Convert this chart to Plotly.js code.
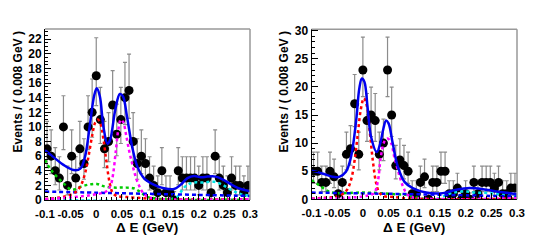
<!DOCTYPE html>
<html>
<head>
<meta charset="utf-8">
<script src="https://cdn.plot.ly/plotly-3.0.1.min.js"></script>
<style>html,body{margin:0;padding:0;background:#fff;}#chart{width:543px;height:243px;}</style>
</head>
<body>
<div id="chart"></div>
<script>
// ---- binning ----
const binStart = -0.1;
const binWidth = 0.008;

// ---- data: events per bin (left panel, right panel) ----
const countsLeft = [7, 6, 4, 3, 10, 2, 6, 3, 7, 5, 10, 12, 17, 11, 7, 8, 13, 9, 11, 14,
  15, 8, 5, 6, 5, 3, 2, 1, 4, 1, 1, 0, 4, 3, 3, 3, 3, 2, 3, 3,
  1, 6, 3, 2, 1, 3, 2, 2, 1, 2];
const countsRight = [5, 5, 3, 3, 5, 4, 1, 3, 8, 9, 17, 8, 23, 14, 15, 14, 8, 10, 23, 15,
  6, 7, 6, 5, 1, 1, 3, 4, 0, 3, 3, 5, 5, 1, 1, 2, 0, 1, 0, 3,
  1, 3, 3, 3, 2, 3, 1, 1, 2, 2];

// Poisson (68%) interval half-widths, indexed by count
const poisLo = [0, 0.827, 1.292, 1.633, 1.914, 2.160, 2.380, 2.581, 2.768, 2.943, 3.109, 3.266,
  3.415, 3.559, 3.696, 3.828, 3.954, 4.076, 4.194, 4.310, 4.422, 4.532, 4.639, 4.744];
const poisHi = [1.148, 2.300, 2.638, 2.918, 3.163, 3.382, 3.584, 3.770, 3.945, 4.110, 4.266, 4.416,
  4.559, 4.697, 4.830, 4.958, 5.083, 5.204, 5.321, 5.435, 5.547, 5.655, 5.761, 5.865];

// ---- fit curves, left panel ----
const totL_x = [-0.1, -0.084, -0.064, -0.044, -0.031, -0.022, -0.012, -0.004, 0.001, 0.007, 0.014, 0.022, 0.027, 0.037, 0.046, 0.052, 0.060, 0.070, 0.080, 0.093, 0.112, 0.132, 0.152, 0.165, 0.178, 0.191, 0.204, 0.217, 0.233, 0.250, 0.269, 0.282, 0.300];
const totL_y = [6.8, 5.9, 4.8, 4.1, 4.3, 5.9, 10.5, 14.3, 15.3, 14.2, 10.0, 7.7, 8.2, 12.3, 14.5, 14.2, 11.4, 7.3, 4.6, 3.0, 2.1, 1.6, 1.5, 2.1, 3.0, 3.3, 3.1, 3.2, 3.2, 2.7, 1.9, 1.5, 1.2];
const redL_x = [-0.1, -0.075, -0.055, -0.04, -0.03, -0.022, -0.015, -0.008, -0.002, 0.003, 0.008, 0.014, 0.020, 0.026, 0.032, 0.04, 0.06, 0.09, 0.12, 0.3];
const redL_y = [0.15, 0.3, 0.6, 1.1, 2.0, 3.6, 6.0, 8.8, 10.6, 11.0, 10.5, 8.3, 5.2, 2.4, 1.0, 0.55, 0.4, 0.25, 0.1, 0.1];
const magL_x = [-0.1, -0.05, 0.0, 0.02, 0.028, 0.033, 0.038, 0.043, 0.048, 0.053, 0.058, 0.064, 0.070, 0.076, 0.082, 0.09, 0.10, 0.12, 0.3];
const magL_y = [0.1, 0.35, 0.8, 1.2, 2.0, 3.6, 6.6, 9.6, 11.0, 10.6, 9.0, 6.8, 5.0, 3.4, 2.2, 1.1, 0.45, 0.15, 0.1];
const grnL_x = [-0.1, -0.09, -0.077, -0.061, -0.048, -0.031, -0.015, 0.001, 0.014, 0.034, 0.054, 0.073, 0.086, 0.099, 0.119, 0.15, 0.3];
const grnL_y = [5.5, 4.3, 3.2, 2.1, 1.4, 1.8, 2.1, 2.2, 1.9, 1.7, 1.7, 1.6, 1.1, 0.45, 0.2, 0.05, 0.05];
const bkgL_x = [-0.1, 0.0, 0.1, 0.2, 0.3];
const bkgL_y = [1.15, 1.0, 0.85, 0.7, 0.55];
const cyaL_x = [-0.1, 0.14, 0.158, 0.168, 0.178, 0.191, 0.21, 0.23, 0.246, 0.263, 0.282, 0.3];
const cyaL_y = [0.05, 0.05, 0.45, 1.4, 2.1, 2.4, 2.4, 2.5, 2.1, 1.4, 0.8, 0.6];

// ---- fit curves, right panel ----
const totR_x = [-0.1, -0.079, -0.059, -0.046, -0.033, -0.023, -0.013, -0.007, -0.002, 0.003, 0.009, 0.016, 0.027, 0.034, 0.040, 0.045, 0.050, 0.058, 0.068, 0.081, 0.097, 0.123, 0.156, 0.182, 0.208, 0.234, 0.26, 0.3];
const totR_y = [5.1, 4.6, 4.0, 4.0, 4.9, 7.6, 14.1, 19.7, 21.5, 20.9, 16.5, 11.1, 8.4, 10.0, 12.6, 14.0, 13.5, 10.0, 5.8, 3.1, 2.0, 1.2, 1.1, 1.7, 2.0, 1.8, 1.4, 0.95];
const redR_x = [-0.1, -0.07, -0.05, -0.04, -0.03, -0.022, -0.016, -0.01, -0.004, 0.002, 0.008, 0.014, 0.020, 0.026, 0.032, 0.04, 0.06, 0.1, 0.3];
const redR_y = [0.1, 0.3, 0.5, 0.9, 1.8, 3.8, 7.0, 11.5, 16.0, 18.0, 16.5, 11.5, 6.4, 2.8, 1.2, 0.6, 0.4, 0.1, 0.1];
const magR_x = [-0.1, -0.05, 0.0, 0.015, 0.022, 0.029, 0.035, 0.042, 0.048, 0.055, 0.061, 0.070, 0.078, 0.087, 0.10, 0.3];
const magR_y = [0.1, 0.2, 0.5, 0.8, 1.1, 3.1, 7.6, 10.3, 10.8, 10.0, 7.6, 4.6, 2.3, 0.8, 0.3, 0.2];
const grnR_x = [-0.1, -0.085, -0.069, -0.053, -0.033, 0.0, 0.032, 0.065, 0.084, 0.097, 0.117, 0.3];
const grnR_y = [3.4, 2.5, 1.5, 1.1, 1.1, 1.2, 1.1, 0.9, 0.8, 0.5, 0.1, 0.05];
const bkgR_x = [-0.1, 0.0, 0.1, 0.2, 0.3];
const bkgR_y = [1.2, 1.05, 0.9, 0.7, 0.5];
const cyaR_x = [-0.1, 0.14, 0.156, 0.172, 0.195, 0.22, 0.247, 0.273, 0.3];
const cyaR_y = [0.05, 0.05, 0.5, 1.1, 1.4, 1.2, 1.1, 0.8, 0.5];

// ---- tick labels ----
const xTickVals = [-0.1, -0.05, 0, 0.05, 0.1, 0.15, 0.2, 0.25, 0.3];
const xTickText = ['-0.1', '-0.05', '0', '0.05', '0.1', '0.15', '0.2', '0.25', '0.3'];
const yTitle = 'Events / ( 0.008 GeV )';
const xTitle = '\u0394 E (GeV)';

// ---- build traces ----
const centers = countsLeft.map((_, i) => binStart + (i + 0.5) * binWidth);

function dataTrace(counts, xa, ya) {
  return {
    x: centers, y: counts, xaxis: xa, yaxis: ya, type: 'scatter', mode: 'markers',
    marker: {color: '#000', size: 9},
    error_y: {type: 'data', symmetric: false,
      array: counts.map(n => poisHi[n]), arrayminus: counts.map(n => poisLo[n]),
      color: '#8c8c8c', thickness: 1.2, width: 2},
    hoverinfo: 'skip'
  };
}
function curve(x, y, color, dash, width, xa, ya) {
  return {x: x, y: y, xaxis: xa, yaxis: ya, type: 'scatter', mode: 'lines',
    line: {color: color, dash: dash, width: width, shape: 'spline', smoothing: 1},
    hoverinfo: 'skip'};
}
const DOT = '3px,3px';
const traces = [
  dataTrace(countsLeft, 'x', 'y'),
  curve(cyaL_x, cyaL_y, '#00e5e5', DOT, 2.5, 'x', 'y'),
  curve(grnL_x, grnL_y, '#00cc00', DOT, 2.5, 'x', 'y'),
  curve(bkgL_x, bkgL_y, '#0000ff', '4px,3px', 2.5, 'x', 'y'),
  curve(redL_x, redL_y, '#ff0000', DOT, 2.5, 'x', 'y'),
  curve(magL_x, magL_y, '#ff00ff', DOT, 2.5, 'x', 'y'),
  curve(totL_x, totL_y, '#0000ee', 'solid', 2.5, 'x', 'y'),
  dataTrace(countsRight, 'x2', 'y2'),
  curve(cyaR_x, cyaR_y, '#00e5e5', DOT, 2.5, 'x2', 'y2'),
  curve(grnR_x, grnR_y, '#00cc00', DOT, 2.5, 'x2', 'y2'),
  curve(bkgR_x, bkgR_y, '#0000ff', '4px,3px', 2.5, 'x2', 'y2'),
  curve(redR_x, redR_y, '#ff0000', DOT, 2.5, 'x2', 'y2'),
  curve(magR_x, magR_y, '#ff00ff', DOT, 2.5, 'x2', 'y2'),
  curve(totR_x, totR_y, '#0000ee', 'solid', 2.5, 'x2', 'y2')
];

const W = 543, H = 243;
const tickFontX = {family: 'Liberation Sans, Arial, sans-serif', size: 11.5, color: '#000', weight: 'bold'};
const tickFontY = {family: 'Liberation Sans, Arial, sans-serif', size: 12, color: '#000', weight: 'bold'};
function xAxis(d) {
  return {domain: d, range: [-0.1, 0.3], tickvals: xTickVals, ticktext: xTickText, tickangle: 0,
    ticks: 'inside', ticklen: 6, tickwidth: 1, tickcolor: '#000', ticklabelstandoff: 3,
    minor: {ticks: 'inside', ticklen: 3, dtick: 0.01, tickcolor: '#000', showgrid: false},
    showline: true, linecolor: '#000', linewidth: 1, mirror: false,
    showgrid: false, zeroline: false, tickfont: tickFontX, fixedrange: true};
}
function yAxis(d, r, dt, mdt, anchor) {
  return {domain: d, range: r, dtick: dt, tick0: 0, anchor: anchor, tickangle: 0,
    ticks: 'inside', ticklen: 6, tickwidth: 1, tickcolor: '#000',
    minor: {ticks: 'inside', ticklen: 3, dtick: mdt, tickcolor: '#000', showgrid: false},
    showline: true, linecolor: '#000', linewidth: 1, mirror: false,
    showgrid: false, zeroline: false, tickfont: tickFontY, fixedrange: true};
}
const frameShapes = [];
[['x', 'y'], ['x2', 'y2']].forEach(([xa, ya]) => {
  frameShapes.push({type: 'line', xref: xa + ' domain', yref: ya + ' domain', x0: 0, x1: 1, y0: 1, y1: 1,
    line: {color: '#999', width: 1.5}});
  frameShapes.push({type: 'line', xref: xa + ' domain', yref: ya + ' domain', x0: 1, x1: 1, y0: 0, y1: 1,
    line: {color: '#999', width: 1.5}});
});
const titleFontY = {family: 'Liberation Sans, Arial, sans-serif', size: 12, color: '#000'};
const titleFontX = {family: 'Liberation Sans, Arial, sans-serif', size: 13.5, color: '#000'};
const annotations = [
  {text: '<b>' + yTitle + '</b>', xref: 'paper', yref: 'paper', x: 17 / W, y: (H - 30) / H,
    xanchor: 'center', yanchor: 'top', textangle: -90, showarrow: false, font: titleFontY},
  {text: '<b>' + yTitle + '</b>', xref: 'paper', yref: 'paper', x: 283 / W, y: (H - 30) / H,
    xanchor: 'center', yanchor: 'top', textangle: -90, showarrow: false, font: titleFontY},
  {text: '<b>' + xTitle + '</b>', xref: 'paper', yref: 'paper', x: 147.5 / W, y: (H - 227) / H,
    xanchor: 'center', yanchor: 'middle', showarrow: false, font: titleFontX},
  {text: '<b>' + xTitle + '</b>', xref: 'paper', yref: 'paper', x: 414 / W, y: (H - 227) / H,
    xanchor: 'center', yanchor: 'middle', showarrow: false, font: titleFontX}
];

const layout = {
  width: W, height: H, margin: {l: 0, r: 0, t: 0, b: 0},
  paper_bgcolor: '#fff', plot_bgcolor: '#fff', showlegend: false,
  xaxis: xAxis([45 / W, 250 / W]),
  yaxis: yAxis([(H - 200) / H, (H - 29) / H], [0, 23.4], 2, 0.5, 'x'),
  xaxis2: Object.assign(xAxis([311.5 / W, 517 / W]), {anchor: 'y2'}),
  yaxis2: yAxis([(H - 199.3) / H, (H - 29.3) / H], [0, 30.25], 5, 1, 'x2'),
  shapes: frameShapes,
  annotations: annotations
};
layout.xaxis.anchor = 'y';

Plotly.newPlot('chart', traces, layout, {staticPlot: true, displayModeBar: false});
</script>
</body>
</html>
